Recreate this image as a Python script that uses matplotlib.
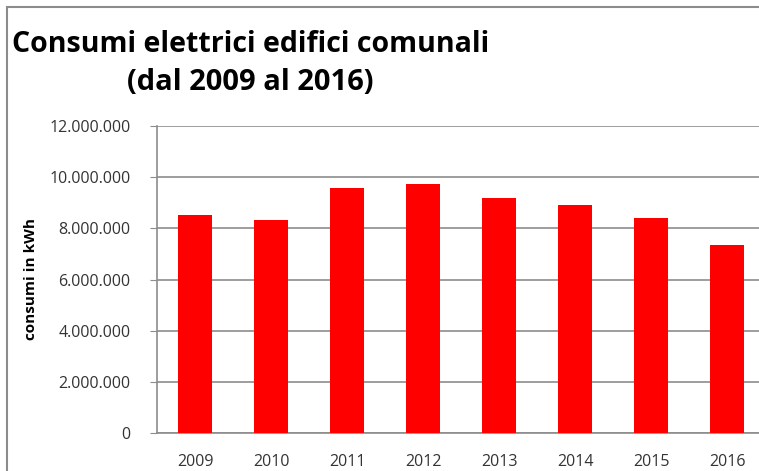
import matplotlib
matplotlib.use("Agg")
import matplotlib.pyplot as plt
from matplotlib.ticker import FuncFormatter
from matplotlib.patches import Rectangle

years = ["2009", "2010", "2011", "2012", "2013", "2014", "2015", "2016"]
consumi = [8540000, 8310000, 9580000, 9720000, 9180000, 8930000, 8420000, 7330000]
yticks = [0, 2000000, 4000000, 6000000, 8000000, 10000000, 12000000]

W, H = 759, 471
fig = plt.figure(figsize=(W / 100, H / 100), dpi=100)
fig.patch.set_facecolor("white")

# outer chart frame
fig.add_artist(Rectangle((7 / W, -0.1), 1.2, 1 - 7 / H + 0.1, transform=fig.transFigure,
                         fill=False, edgecolor="#8c8c8c", linewidth=1.5))

left, right = 157 / W, 765 / W
bottom, top = 1 - 433 / H, 1 - 126 / H
ax = fig.add_axes([left, bottom, right - left, top - bottom])

x = range(len(years))
ax.bar(x, consumi, width=0.46, color="#ff0000", zorder=3)
ax.set_xlim(-0.5, len(years) - 0.5)
ax.set_ylim(0, 12000000)
ax.set_yticks(yticks)
ax.yaxis.set_major_formatter(FuncFormatter(lambda v, p: f"{int(v):,}".replace(",", ".")))
ax.set_xticks(list(x))
ax.set_xticklabels(years)
ax.grid(axis="y", color="#8c8c8c", linewidth=1.2, zorder=0)
for s in ["top", "right"]:
    ax.spines[s].set_visible(False)
for s in ["left", "bottom"]:
    ax.spines[s].set_color("#8c8c8c")
    ax.spines[s].set_linewidth(1.2)
ax.tick_params(axis="y", length=5, color="#8c8c8c", labelsize=11.5, labelcolor="#333333", pad=14)
ax.tick_params(axis="x", length=0, labelsize=11.5, labelcolor="#333333", pad=15)
for lab in ax.get_xticklabels() + ax.get_yticklabels():
    lab.set_family("Open Sans")

ax.set_ylabel("consumi in kWh", fontsize=11, fontweight="bold", family="Open Sans")
ax.yaxis.set_label_coords((38 - 157) / 608, 0.5)

fig.text(12 / W, 1 - 52 / H, "Consumi elettrici edifici comunali", fontsize=20.5, fontweight="bold",
         family="Open Sans", ha="left", va="baseline", color="#000000")
fig.text(127 / W, 1 - 90 / H, "(dal 2009 al 2016)", fontsize=21, fontweight="bold",
         family="Open Sans", ha="left", va="baseline", color="#000000")

fig.savefig("out.png", dpi=100, facecolor="white")
